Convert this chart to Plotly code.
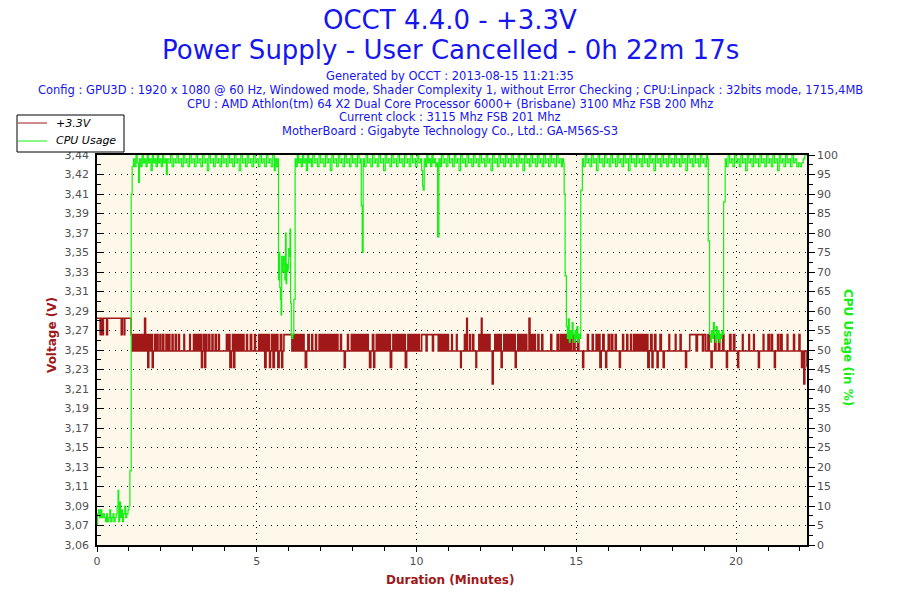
import plotly.graph_objects as go

# +3.3V rail, step breakpoints (minutes, volts)
volt_t = [
    0.00, 0.10, 0.14, 0.17, 0.20, 0.30, 0.33, 0.76, 0.79, 0.85, 0.87, 1.07,
    1.10, 1.12, 1.16, 1.18, 1.22, 1.25, 1.27, 1.31, 1.34, 1.36, 1.40, 1.43, 1.46, 1.49,
    1.52, 1.56, 1.59, 1.62, 1.66, 1.70, 1.73, 1.76, 1.80, 1.84, 1.88, 1.91, 1.97, 2.00,
    2.06, 2.09, 2.16, 2.19, 2.24, 2.28, 2.35, 2.38, 2.45, 2.49, 2.56, 2.58, 2.72, 2.74,
    2.90, 2.92, 3.02, 3.05, 3.08, 3.12, 3.15, 3.19, 3.23, 3.27, 3.30, 3.33, 3.37, 3.40,
    3.44, 3.50, 3.53, 3.60, 3.63, 3.70, 3.73, 3.80, 3.83, 4.05, 4.08, 4.12, 4.16, 4.20,
    4.24, 4.27, 4.31, 4.35, 4.39, 4.43, 4.47, 4.51, 4.56, 4.60, 4.68, 4.71, 4.80, 4.84,
    4.93, 4.96, 5.06, 5.09, 5.14, 5.18, 5.21, 5.25, 5.29, 5.33, 5.36, 5.40, 5.43, 5.47,
    5.51, 5.55, 5.58, 5.62, 5.66, 5.70, 5.74, 5.78, 5.81, 5.85, 6.10, 6.13, 6.17, 6.20,
    6.24, 6.28, 6.32, 6.36, 6.40, 6.44, 6.48, 6.52, 6.56, 6.60, 6.64, 6.72, 6.75, 6.84,
    6.87, 6.95, 6.98, 7.03, 7.07, 7.10, 7.14, 7.18, 7.22, 7.26, 7.30, 7.34, 7.38, 7.42,
    7.46, 7.50, 7.54, 7.62, 7.65, 7.74, 7.77, 7.84, 7.87, 7.96, 7.99, 8.04, 8.08, 8.12,
    8.16, 8.20, 8.24, 8.28, 8.32, 8.36, 8.40, 8.45, 8.49, 8.53, 8.57, 8.62, 8.66, 8.69,
    8.74, 8.78, 8.82, 8.86, 8.90, 8.94, 8.98, 9.02, 9.06, 9.10, 9.14, 9.18, 9.22, 9.26,
    9.30, 9.35, 9.39, 9.44, 9.48, 9.53, 9.57, 9.61, 9.65, 9.69, 9.73, 9.77, 9.81, 9.85,
    9.89, 9.93, 9.97, 10.01, 10.05, 10.09, 10.16, 10.30, 10.33, 10.50, 10.53, 10.68,
    10.72, 10.76, 10.80, 10.84, 10.88, 10.92, 10.96, 11.00, 11.10, 11.12, 11.25, 11.27,
    11.38, 11.40, 11.50, 11.53, 11.57, 11.59, 11.66, 11.69, 11.76, 11.79, 11.86, 11.88,
    11.95, 11.98, 12.03, 12.05, 12.10, 12.14, 12.18, 12.22, 12.26, 12.30, 12.37, 12.40,
    12.45, 12.49, 12.53, 12.57, 12.61, 12.65, 12.68, 12.73, 12.77, 12.81, 12.85, 12.89,
    12.93, 12.97, 13.01, 13.05, 13.09, 13.12, 13.17, 13.21, 13.25, 13.29, 13.33, 13.37,
    13.41, 13.45, 13.52, 13.55, 13.60, 13.64, 13.68, 13.72, 13.80, 13.83, 13.92, 13.95,
    14.20, 14.23, 14.40, 14.44, 14.50, 14.54, 14.58, 14.62, 14.66, 14.70, 14.74, 14.78,
    14.82, 14.86, 14.92, 14.96, 15.04, 15.08, 15.20, 15.23, 15.35, 15.38, 15.50, 15.53,
    15.62, 15.66, 15.70, 15.74, 15.78, 15.83, 15.87, 15.92, 15.95, 16.00, 16.04, 16.10,
    16.14, 16.22, 16.25, 16.35, 16.38, 16.45, 16.48, 16.58, 16.61, 16.70, 16.73, 16.80,
    16.84, 16.88, 16.92, 16.96, 17.00, 17.04, 17.08, 17.12, 17.16, 17.20, 17.24, 17.28,
    17.33, 17.37, 17.40, 17.45, 17.49, 17.53, 17.56, 17.62, 17.66, 17.72, 17.75, 17.90,
    17.92, 18.10, 18.12, 18.25, 18.28, 18.42, 18.45, 18.55, 18.75, 18.79, 18.95, 18.99,
    19.05, 19.12, 19.16, 19.22, 19.25, 19.33, 19.37, 19.45, 19.49, 19.58, 19.62, 19.70,
    19.73, 19.80, 19.84, 19.92, 19.96, 20.05, 20.08, 20.20, 20.22, 20.40, 20.42, 20.55,
    20.57, 20.70, 20.73, 20.85, 20.87, 21.00, 21.04, 21.10, 21.14, 21.20, 21.23, 21.30,
    21.34, 21.40, 21.44, 21.60, 21.62, 21.80, 21.83, 21.97, 22.00, 22.05, 22.08, 22.12,
    22.15, 22.22,
]
volt_v = [
    3.281, 3.265, 3.281, 3.265, 3.281, 3.265, 3.281, 3.265, 3.281, 3.265, 3.281, 3.265,
    3.249, 3.265, 3.249, 3.265, 3.249, 3.265, 3.249, 3.265, 3.249, 3.265, 3.249, 3.265, 3.249, 3.281,
    3.249, 3.265, 3.233, 3.265, 3.249, 3.265, 3.233, 3.249, 3.265, 3.249, 3.265, 3.249, 3.265, 3.249,
    3.265, 3.249, 3.265, 3.249, 3.265, 3.249, 3.265, 3.249, 3.265, 3.249, 3.265, 3.249, 3.265, 3.249,
    3.265, 3.249, 3.265, 3.249, 3.265, 3.249, 3.265, 3.249, 3.265, 3.233, 3.249, 3.265, 3.233, 3.265,
    3.249, 3.265, 3.249, 3.265, 3.249, 3.265, 3.249, 3.265, 3.249, 3.265, 3.249, 3.265, 3.233, 3.249,
    3.265, 3.233, 3.265, 3.249, 3.265, 3.249, 3.265, 3.249, 3.265, 3.249, 3.265, 3.249, 3.265, 3.249,
    3.265, 3.249, 3.265, 3.249, 3.265, 3.249, 3.265, 3.233, 3.265, 3.249, 3.265, 3.233, 3.249, 3.265,
    3.233, 3.265, 3.249, 3.265, 3.233, 3.249, 3.265, 3.233, 3.249, 3.265, 3.249, 3.265, 3.249, 3.265,
    3.249, 3.265, 3.249, 3.265, 3.249, 3.265, 3.249, 3.233, 3.249, 3.265, 3.249, 3.265, 3.249, 3.265,
    3.249, 3.265, 3.249, 3.265, 3.249, 3.265, 3.249, 3.265, 3.249, 3.265, 3.249, 3.265, 3.249, 3.265,
    3.249, 3.265, 3.249, 3.265, 3.249, 3.233, 3.249, 3.265, 3.249, 3.265, 3.249, 3.265, 3.249, 3.265,
    3.249, 3.265, 3.249, 3.265, 3.249, 3.265, 3.249, 3.265, 3.249, 3.233, 3.249, 3.265, 3.233, 3.249,
    3.265, 3.249, 3.265, 3.249, 3.265, 3.249, 3.265, 3.249, 3.265, 3.249, 3.265, 3.233, 3.249, 3.265,
    3.249, 3.265, 3.249, 3.265, 3.249, 3.265, 3.249, 3.265, 3.233, 3.249, 3.265, 3.249, 3.265, 3.249,
    3.265, 3.249, 3.265, 3.249, 3.265, 3.249, 3.265, 3.249, 3.265, 3.249, 3.265, 3.249,
    3.265, 3.249, 3.265, 3.249, 3.265, 3.249, 3.265, 3.249, 3.265, 3.249, 3.265, 3.249,
    3.233, 3.249, 3.265, 3.249, 3.281, 3.249, 3.265, 3.249, 3.265, 3.249, 3.233, 3.249,
    3.265, 3.249, 3.281, 3.249, 3.265, 3.249, 3.265, 3.249, 3.265, 3.249, 3.217, 3.249,
    3.265, 3.249, 3.265, 3.249, 3.265, 3.233, 3.249, 3.265, 3.249, 3.265, 3.249, 3.265,
    3.249, 3.265, 3.249, 3.265, 3.233, 3.249, 3.265, 3.249, 3.265, 3.249, 3.265, 3.249,
    3.265, 3.249, 3.281, 3.249, 3.265, 3.249, 3.265, 3.249, 3.265, 3.249, 3.265, 3.249,
    3.265, 3.249, 3.265, 3.249, 3.265, 3.249, 3.265, 3.249, 3.265, 3.249, 3.265, 3.249,
    3.265, 3.249, 3.265, 3.249, 3.265, 3.249, 3.233, 3.249, 3.265, 3.249, 3.265, 3.249,
    3.265, 3.249, 3.265, 3.233, 3.249, 3.265, 3.249, 3.233, 3.249, 3.265, 3.249, 3.265,
    3.249, 3.265, 3.249, 3.233, 3.249, 3.265, 3.249, 3.265, 3.249, 3.265, 3.249, 3.265,
    3.249, 3.265, 3.249, 3.265, 3.249, 3.265, 3.249, 3.265, 3.249, 3.265, 3.233, 3.249,
    3.265, 3.233, 3.249, 3.265, 3.249, 3.233, 3.249, 3.265, 3.249, 3.233, 3.249, 3.265,
    3.249, 3.265, 3.249, 3.265, 3.249, 3.233, 3.249, 3.265, 3.249, 3.265, 3.249, 3.265,
    3.249, 3.265, 3.249, 3.233, 3.249, 3.265, 3.249, 3.265, 3.249, 3.265, 3.249, 3.233,
    3.249, 3.265, 3.249, 3.265, 3.249, 3.233, 3.249, 3.265, 3.249, 3.265, 3.249, 3.265,
    3.249, 3.233, 3.249, 3.265, 3.249, 3.265, 3.249, 3.265, 3.249, 3.233, 3.249, 3.265,
    3.249, 3.265, 3.249, 3.265, 3.249, 3.265, 3.249, 3.265, 3.249, 3.233, 3.249, 3.217, 3.249, 3.233,
    3.249, 3.249,
]

# CPU usage (minutes, percent)
cpu_t = [
    0.00, 0.02, 0.05, 0.08, 0.12, 0.15, 0.19, 0.23, 0.27, 0.30, 0.33, 0.37, 0.40, 0.43,
    0.47, 0.50, 0.53, 0.57, 0.60, 0.63, 0.66, 0.68, 0.71, 0.74, 0.77, 0.80, 0.83, 0.87,
    0.90, 0.93, 0.97, 1.00, 1.03, 1.07, 1.10, 1.14, 1.18, 1.22, 1.26, 1.30, 1.33, 1.37,
    1.41, 1.45, 1.49, 1.53, 1.57, 1.61, 1.65, 1.69, 1.73, 1.77, 1.81, 1.85, 1.89, 1.93,
    1.97, 2.01, 2.05, 2.09, 2.13, 2.17, 2.20, 2.25, 2.30, 2.35, 2.40, 2.45, 2.50, 2.55,
    2.60, 2.65, 2.70, 2.75, 2.80, 2.85, 2.90, 2.95, 3.00, 3.05, 3.10, 3.15, 3.20, 3.25,
    3.30, 3.35, 3.40, 3.45, 3.50, 3.55, 3.60, 3.65, 3.70, 3.75, 3.80, 3.85, 3.90, 3.95,
    4.00, 4.05, 4.10, 4.15, 4.20, 4.25, 4.30, 4.35, 4.40, 4.45, 4.50, 4.55, 4.60, 4.65,
    4.70, 4.75, 4.80, 4.85, 4.90, 4.95, 5.00, 5.05, 5.10, 5.15, 5.20, 5.25, 5.30, 5.35,
    5.40, 5.45, 5.50, 5.55, 5.58, 5.62, 5.66, 5.68, 5.70, 5.72, 5.74, 5.76, 5.78, 5.80,
    5.82, 5.84, 5.86, 5.88, 5.90, 5.92, 5.94, 5.96, 5.98, 6.00, 6.02, 6.04, 6.06, 6.08,
    6.10, 6.13, 6.16, 6.20, 6.23, 6.27, 6.31, 6.35, 6.39, 6.43, 6.47, 6.51, 6.55, 6.59,
    6.63, 6.67, 6.71, 6.75, 6.80, 6.85, 6.90, 6.95, 7.00, 7.05, 7.10, 7.15, 7.20, 7.25,
    7.30, 7.35, 7.40, 7.45, 7.50, 7.55, 7.60, 7.65, 7.70, 7.75, 7.80, 7.85, 7.90, 7.95,
    8.00, 8.05, 8.10, 8.15, 8.20, 8.25, 8.27, 8.30, 8.33, 8.37, 8.42, 8.47, 8.52, 8.57,
    8.62, 8.67, 8.72, 8.77, 8.82, 8.87, 8.92, 8.97, 9.02, 9.07, 9.12, 9.17, 9.22, 9.27,
    9.32, 9.37, 9.42, 9.47, 9.52, 9.57, 9.62, 9.67, 9.72, 9.77, 9.82, 9.87, 9.92, 9.97,
    10.02, 10.07, 10.12, 10.16, 10.19, 10.21, 10.24, 10.28, 10.32, 10.36, 10.40, 10.44,
    10.48, 10.52, 10.56, 10.60, 10.64, 10.66, 10.70, 10.74, 10.78, 10.83, 10.88, 10.93,
    10.98, 11.03, 11.08, 11.13, 11.18, 11.23, 11.28, 11.33, 11.38, 11.43, 11.48, 11.53,
    11.58, 11.63, 11.68, 11.73, 11.78, 11.83, 11.88, 11.93, 11.98, 12.03, 12.08, 12.13,
    12.18, 12.23, 12.28, 12.33, 12.38, 12.43, 12.48, 12.53, 12.58, 12.63, 12.68, 12.73,
    12.78, 12.83, 12.88, 12.93, 12.98, 13.03, 13.08, 13.13, 13.18, 13.23, 13.28, 13.33,
    13.38, 13.43, 13.48, 13.53, 13.58, 13.63, 13.68, 13.73, 13.78, 13.83, 13.88, 13.93,
    13.98, 14.03, 14.08, 14.13, 14.18, 14.23, 14.28, 14.33, 14.38, 14.43, 14.48, 14.53,
    14.57, 14.60, 14.62, 14.65, 14.69, 14.72, 14.75, 14.78, 14.81, 14.84, 14.87, 14.90,
    14.93, 14.96, 14.99, 15.02, 15.05, 15.08, 15.11, 15.14, 15.19, 15.23, 15.28, 15.33,
    15.38, 15.43, 15.48, 15.53, 15.58, 15.63, 15.68, 15.73, 15.78, 15.83, 15.88, 15.93,
    15.98, 16.03, 16.08, 16.13, 16.18, 16.23, 16.28, 16.33, 16.38, 16.43, 16.48, 16.53,
    16.58, 16.63, 16.68, 16.73, 16.78, 16.83, 16.88, 16.93, 16.98, 17.03, 17.08, 17.13,
    17.18, 17.23, 17.28, 17.33, 17.38, 17.43, 17.48, 17.53, 17.58, 17.63, 17.68, 17.73,
    17.78, 17.83, 17.88, 17.93, 17.98, 18.03, 18.08, 18.13, 18.18, 18.23, 18.28, 18.33,
    18.38, 18.43, 18.48, 18.53, 18.58, 18.63, 18.68, 18.73, 18.78, 18.83, 18.88, 18.93,
    18.98, 19.03, 19.08, 19.11, 19.13, 19.17, 19.20, 19.23, 19.26, 19.29, 19.32, 19.35,
    19.38, 19.41, 19.44, 19.47, 19.50, 19.53, 19.56, 19.59, 19.61, 19.66, 19.70, 19.75,
    19.80, 19.85, 19.90, 19.95, 20.00, 20.05, 20.10, 20.15, 20.20, 20.25, 20.30, 20.35,
    20.40, 20.45, 20.50, 20.55, 20.60, 20.65, 20.70, 20.75, 20.80, 20.85, 20.90, 20.95,
    21.00, 21.05, 21.10, 21.15, 21.20, 21.25, 21.30, 21.35, 21.40, 21.45, 21.50, 21.55,
    21.60, 21.65, 21.70, 21.75, 21.80, 21.85, 21.90, 21.95, 22.00, 22.05, 22.10, 22.15,
    22.22,
]
cpu_v = [
    5, 8, 9, 7, 9, 7, 8, 7, 6, 8, 6, 7, 9, 6,
    7, 8, 6, 7, 8, 10, 14, 6, 11, 7, 9, 6, 8, 10,
    7, 8, 9, 10, 19, 90, 97, 99, 97, 100, 98, 93, 99, 97,
    100, 98, 99, 97, 100, 98, 99, 96, 100, 98, 99, 97, 100, 98,
    99, 97, 100, 98, 99, 95, 99, 98, 100, 97, 99, 98, 100, 98,
    99, 97, 100, 98, 99, 97, 100, 98, 99, 97, 100, 98, 99, 97,
    100, 98, 99, 96, 100, 98, 99, 97, 100, 98, 99, 97, 100, 98,
    99, 97, 100, 98, 99, 97, 100, 98, 99, 96, 100, 98, 99, 97,
    100, 98, 99, 97, 100, 98, 99, 97, 100, 98, 99, 97, 100, 98,
    99, 97, 100, 96, 99, 97, 99, 68, 75, 66, 63, 59, 74, 70,
    72, 74, 70, 68, 80, 67, 72, 70, 71, 76, 74, 81, 62, 54,
    53, 54, 63, 99, 97, 100, 98, 99, 97, 100, 98, 99, 96, 100,
    98, 99, 97, 100, 98, 99, 97, 100, 98, 99, 97, 100, 98, 99,
    96, 100, 98, 99, 97, 100, 98, 99, 97, 100, 98, 99, 97, 100,
    98, 99, 97, 100, 98, 99, 87, 75, 99, 97, 100, 98, 99, 97,
    100, 98, 99, 97, 100, 98, 99, 96, 100, 98, 99, 97, 100, 98,
    99, 97, 100, 98, 99, 97, 100, 98, 99, 97, 100, 98, 99, 97,
    100, 98, 99, 96, 92, 91, 99, 97, 100, 98, 99, 97,
    100, 98, 99, 97, 98, 79, 99, 97, 100, 98, 99, 97,
    100, 98, 99, 97, 100, 98, 99, 96, 100, 98, 99, 97,
    100, 98, 99, 97, 100, 98, 99, 97, 100, 98, 99, 97,
    100, 98, 99, 96, 100, 98, 99, 97, 100, 98, 99, 97,
    100, 98, 99, 97, 100, 98, 99, 97, 100, 98, 99, 96,
    100, 98, 99, 97, 100, 98, 99, 97, 100, 98, 99, 97,
    100, 98, 99, 97, 100, 98, 99, 97, 100, 98, 99, 97,
    99, 98, 90, 69, 56, 53, 58, 52, 55, 53, 57, 54,
    52, 55, 53, 56, 52, 54, 53, 91, 99, 97, 100, 98,
    99, 97, 100, 98, 99, 96, 100, 98, 99, 97, 100, 98,
    99, 97, 100, 98, 99, 97, 100, 98, 99, 97, 100, 98,
    99, 96, 100, 98, 99, 97, 100, 98, 99, 97, 100, 98,
    99, 97, 100, 98, 99, 96, 100, 98, 99, 97, 100, 98,
    99, 97, 100, 98, 99, 97, 100, 98, 99, 97, 100, 98,
    99, 96, 100, 98, 99, 97, 100, 98, 99, 97, 100, 98,
    99, 97, 100, 99, 78, 54, 52, 55, 53, 57, 54, 52,
    56, 53, 55, 52, 54, 53, 55, 54, 88, 99, 97, 100,
    98, 99, 97, 100, 98, 99, 97, 100, 98, 99, 96, 100,
    98, 99, 97, 100, 98, 99, 97, 100, 98, 99, 97, 100,
    98, 99, 97, 100, 98, 99, 96, 100, 98, 99, 97, 100,
    98, 99, 97, 100, 98, 99, 97, 98, 97, 98, 99, 100,
    100,
]

volt_ticks = ["3,06", "3,07", "3,09", "3,11", "3,13", "3,15", "3,17", "3,19", "3,21", "3,23",
              "3,25", "3,27", "3,29", "3,31", "3,33", "3,35", "3,37", "3,39", "3,41", "3,42", "3,44"]
x_ticks = [0, 5, 10, 15, 20]

title_lines = ["OCCT 4.4.0 - +3.3V", "Power Supply - User Cancelled - 0h 22m 17s"]
info_lines = [
    "Generated by OCCT : 2013-08-15 11:21:35",
    "Config : GPU3D : 1920 x 1080 @ 60 Hz, Windowed mode, Shader Complexity 1, without Error Checking ; CPU:Linpack : 32bits mode, 1715,4MB",
    "CPU : AMD Athlon(tm) 64 X2 Dual Core Processor 6000+ (Brisbane) 3100 Mhz FSB 200 Mhz",
    "Current clock : 3115 Mhz FSB 201 Mhz",
    "MotherBoard : Gigabyte Technology Co., Ltd.: GA-M56S-S3",
]
series_names = ["+3.3V", "CPU Usage"]

RED = "#A01818"
GREEN = "#14F014"
BLUE = "#1616EE"
GREY = "#505050"
FONT = "DejaVu Sans"

V0, V1 = 3.06, 3.44
vstep = (V1 - V0) / (len(volt_ticks) - 1)
vtickvals = [round(V0 + i * vstep, 6) for i in range(len(volt_ticks))]

fig = go.Figure()
fig.add_trace(go.Scatter(x=volt_t, y=volt_v, name=series_names[0], mode="lines",
                         line=dict(color=RED, width=1.6, shape="hv"), yaxis="y"))
fig.add_trace(go.Scatter(x=cpu_t, y=cpu_v, name=series_names[1], mode="lines",
                         line=dict(color=GREEN, width=1.2, shape="hv"), yaxis="y2"))

grid = dict(showgrid=True, gridcolor="black", gridwidth=1, griddash="1px,5px")
fig.update_layout(
    width=900, height=600,
    paper_bgcolor="white", plot_bgcolor="#FDF8EA",
    margin=dict(l=97, r=93, t=155, b=55, autoexpand=False),
    font=dict(family=FONT, size=11, color=GREY),
    showlegend=False,
    xaxis=dict(range=[0, 22.22], tickvals=x_ticks, ticks="outside", ticklen=5,
               tickcolor="black", showline=True, linecolor="black", linewidth=1.5,
               mirror=True, zeroline=False,
               minor=dict(dtick=1, ticks="outside", ticklen=4, tickcolor="black"),
               tickfont=dict(size=11, color=GREY), **grid),
    yaxis=dict(range=[V0, V1], tickvals=vtickvals, ticktext=volt_ticks,
               ticks="inside", ticklen=7, tickcolor="black", showline=True,
               linecolor="black", linewidth=1.5, zeroline=False, ticklabelstandoff=4,
               minor=dict(tickvals=[v + vstep / 2 for v in vtickvals[:-1]],
                          ticks="inside", ticklen=4, tickcolor="black"),
               tickfont=dict(size=11, color=GREY), **grid),
    yaxis2=dict(range=[0, 100], dtick=5, overlaying="y", side="right",
                ticks="outside", ticklen=6, tickcolor="black", showline=True,
                linecolor="black", linewidth=1.5, showgrid=False, zeroline=False,
                minor=dict(dtick=2.5, ticks="outside", ticklen=4, tickcolor="black"),
                tickfont=dict(size=11, color=GREY)),
)


def py(p):
    # paper y for a pixel row of the 900x600 picture
    return (545 - p) / 390


def px(p):
    return (p - 97) / 710


def note(txt, x, y, size, color, angle=0, anchor="center", italic=False):
    fig.add_annotation(text=txt, x=px(x), y=py(y), xref="paper", yref="paper",
                       xanchor=anchor, yanchor="middle", textangle=angle,
                       showarrow=False,
                       font=dict(family=FONT, size=size, color=color,
                                 style="italic" if italic else "normal"))


for txt, y in zip(title_lines, [20, 50]):
    note(txt, 450, y, 26, BLUE)
for txt, y in zip(info_lines, [76, 90.5, 104, 117.5, 131]):
    note(txt, 450, y, 11.5, BLUE)

note("<b>Voltage (V)</b>", 52, 335, 12, RED, -90)
note("<b>CPU Usage (in %)</b>", 848, 347, 12, GREEN, 90)
note("<b>Duration (Minutes)</b>", 450, 580, 12, RED)

# boxed legend in the top-left corner, as OCCT draws it
fig.add_shape(type="rect", xref="paper", yref="paper", x0=px(17), x1=px(124),
              y0=py(152), y1=py(115), line=dict(color="black", width=1), fillcolor="white")
for name, color, y in zip(series_names, [RED, GREEN], [123, 141]):
    fig.add_shape(type="line", xref="paper", yref="paper", x0=px(18), x1=px(47),
                  y0=py(y), y1=py(y), line=dict(color=color, width=1))
    note(name, 54, y, 11, "black", anchor="left", italic=True)

fig.write_html("out.html", config={"displayModeBar": False},
               post_script="document.body.style.margin='0px';")
